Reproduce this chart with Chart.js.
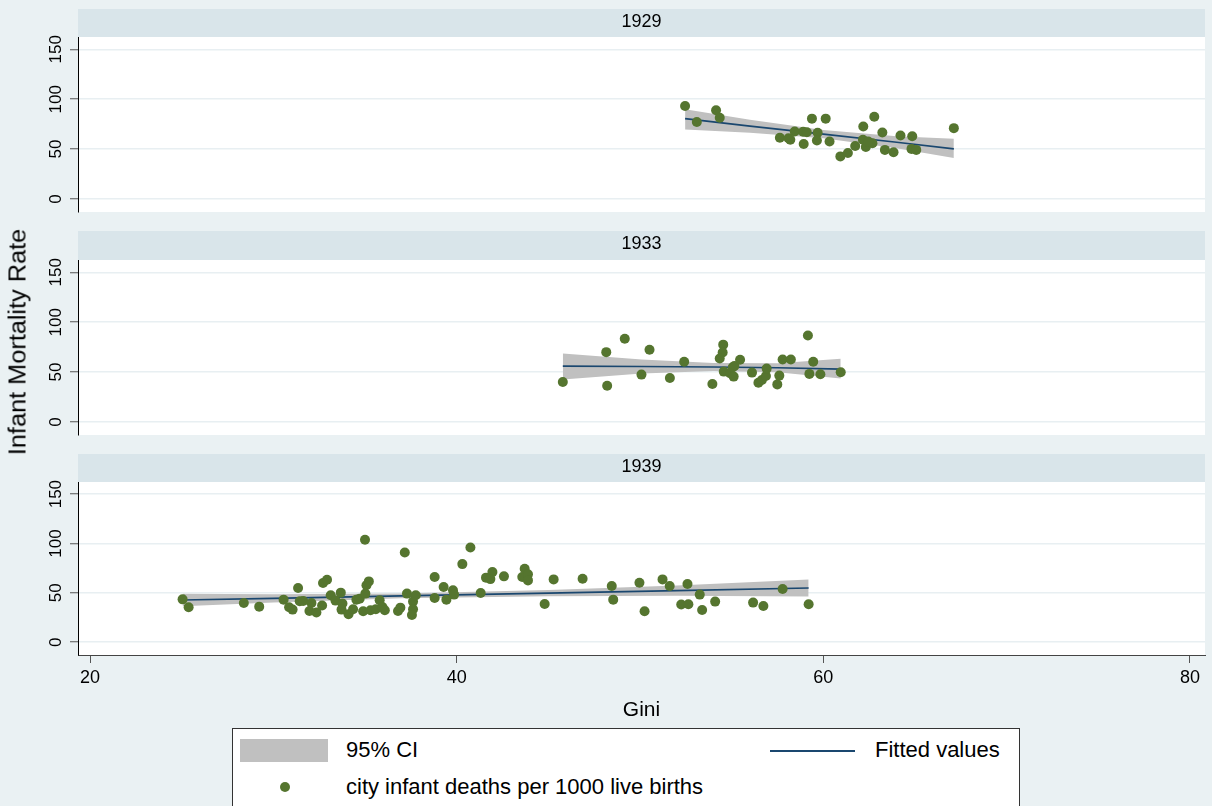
<!DOCTYPE html>
<html>
<head>
<meta charset="utf-8">
<script src="https://cdn.jsdelivr.net/npm/chart.js@4.4.1/dist/chart.umd.min.js"></script>
<style>
  html, body { margin: 0; padding: 0; width: 1212px; height: 806px; overflow: hidden;
    background: #EAF1F3; font-family: 'Liberation Sans', Arial, sans-serif; color: #000; }
  canvas { position: absolute; left: 0; }
  #ytitle { position: absolute; left: 18px; top: 342px;
    transform: translate(-50%, -50%) rotate(-90deg) scaleX(1.1);
    white-space: nowrap; font-size: 23px; line-height: 23px; }
  #legend { position: absolute; left: 232px; top: 728px; width: 788px; height: 100px;
    background: #fff; border: 1px solid #333; box-sizing: border-box; }
  #legend div { position: absolute; }
  .lt { font-size: 22px; line-height: 22px; white-space: nowrap; }
</style>
</head>
<body>
<!-- each panel canvas carries 6px of bottom room taken by the point-size padding -->
<canvas id="p1929" width="1212" height="208" style="top:9px"></canvas>
<canvas id="p1933" width="1212" height="209" style="top:231px"></canvas>
<canvas id="p1939" width="1212" height="271" style="top:454px"></canvas>
<div id="ytitle">Infant Mortality Rate</div>
<div id="legend">
  <div style="left:7px;top:10px;width:88px;height:23px;background:#C0C0C0"></div>
  <div class="lt" style="left:113px;top:10px">95% CI</div>
  <div style="left:537px;top:21px;width:85px;height:2px;background:#1A476F"></div>
  <div class="lt" style="left:642px;top:10px">Fitted values</div>
  <div style="left:47px;top:53px;width:10px;height:10px;border-radius:50%;background:#55752F"></div>
  <div class="lt" style="left:113px;top:47px">city infant deaths per 1000 live births</div>
</div>
<script>
// Axis ticks
const giniTicks = [20, 40, 60, 80];
const imrTicks = [0, 50, 100, 150];

// 1929: city Gini and infant deaths per 1000 live births
const gini1929 = [52.46, 53.10, 54.15, 54.35, 59.38, 60.13, 62.78, 62.18, 63.22, 64.21, 64.85, 67.12,
  58.44, 58.90, 59.10, 59.69, 57.63, 58.10, 58.20, 58.93, 59.65, 60.34, 60.93, 61.34, 61.74, 62.16,
  62.32, 62.68, 62.45, 63.36, 63.83, 64.81, 65.07];
const imr1929 = [93.2, 77.1, 88.9, 81.5, 80.5, 80.5, 82.5, 72.7, 66.7, 63.6, 62.9, 71.0,
  67.7, 67.3, 66.8, 66.3, 61.3, 60.9, 59.3, 55.2, 58.6, 57.6, 42.7, 46.1, 53.2, 59.3,
  52.2, 55.9, 57.5, 49.2, 46.8, 50.2, 49.2];
const fitX1929 = [52.46, 56.0, 60.0, 64.0, 67.12];
const fit1929 = [80.5, 73.0, 65.0, 56.8, 50.2];
const ciLo1929 = [69.7, 66.5, 60.8, 50.8, 41.1];
const ciHi1929 = [89.9, 79.5, 69.2, 62.8, 60.3];

// 1933
const gini1933 = [45.79, 48.21, 48.16, 49.17, 50.52, 50.08, 51.63, 52.41, 53.95, 54.54, 54.51, 54.35,
  54.57, 55.06, 55.15, 54.91, 55.11, 55.46, 56.11, 56.46, 56.65, 56.87, 56.91, 57.49, 57.60, 57.78,
  58.23, 59.16, 59.45, 59.24, 59.84, 60.95];
const imr1933 = [40.1, 36.4, 70.0, 83.5, 72.4, 47.5, 44.1, 60.3, 38.1, 77.5, 69.7, 63.6,
  50.5, 54.9, 56.2, 48.8, 45.5, 62.3, 49.5, 39.4, 42.1, 46.1, 53.5, 37.7, 46.5, 62.6,
  62.6, 86.6, 60.3, 48.2, 47.8, 49.8];
const fitX1933 = [45.79, 50.1, 54.0, 57.5, 60.95];
const fit1933 = [56.0, 55.6, 55.1, 54.3, 53.0];
const ciLo1933 = [42.7, 48.5, 51.2, 49.8, 43.7];
const ciHi1933 = [68.7, 62.7, 59.0, 58.8, 63.3];

// 1939
const gini1939 = [25.05, 25.38, 28.39, 29.23, 30.56, 31.35, 30.86, 31.05, 31.44, 31.63, 32.08, 31.97,
  32.35, 32.66, 32.71, 32.93, 33.13, 33.39, 33.68, 33.77, 33.72, 34.10, 34.35, 34.53, 34.71, 35.00,
  35.08, 35.21, 35.02, 34.90, 35.30, 35.59, 35.80, 35.95, 36.08, 36.80, 36.93, 37.17, 37.29, 37.62,
  37.77, 37.62, 37.56, 38.80, 38.80, 39.29, 39.44, 39.80, 39.86, 40.31, 40.75, 41.31, 41.60, 41.95,
  41.84, 42.58, 43.71, 43.58, 43.89, 43.89, 44.80, 45.29, 46.87, 48.46, 48.54, 49.97, 50.25, 51.23,
  51.62, 52.25, 52.64, 52.59, 53.26, 53.39, 54.10, 56.17, 56.73, 57.78, 59.20];
const imr1939 = [43.4, 35.4, 39.7, 36.0, 43.1, 54.9, 35.4, 33.0, 41.4, 41.7, 39.7, 31.6,
  30.0, 37.1, 59.9, 63.3, 47.5, 42.1, 50.2, 39.1, 33.0, 28.3, 33.3, 43.1, 44.1, 103.7,
  57.6, 61.6, 49.2, 31.3, 32.3, 33.3, 42.4, 35.7, 32.3, 31.6, 35.0, 90.9, 49.2, 41.1,
  47.5, 33.3, 27.6, 66.0, 44.7, 55.9, 43.1, 52.5, 48.2, 79.1, 96.0, 49.8, 65.4, 71.0,
  63.9, 66.7, 74.4, 66.0, 68.7, 62.6, 38.7, 63.6, 64.3, 56.9, 43.1, 60.3, 31.3, 63.6,
  56.9, 38.1, 38.4, 58.9, 48.2, 32.6, 41.1, 40.1, 36.7, 53.8, 38.4];
const fitX1939 = [25.05, 30.0, 37.0, 45.0, 52.0, 59.2];
const fit1939 = [42.7, 44.4, 46.9, 49.7, 52.2, 54.9];
const ciLo1939 = [36.4, 40.2, 44.6, 46.6, 47.1, 46.3];
const ciHi1939 = [49.0, 48.6, 49.2, 52.8, 57.3, 63.5];

const FONT = "'Liberation Sans', Arial, sans-serif";
Chart.defaults.font.family = FONT;
Chart.defaults.color = '#000';

const POINT_COLOR = '#55752F';
const FIT_COLOR = '#1A476F';
const CI_COLOR = '#C0C0C0';

// Draws the title strip above each panel and the white plot region
const panelFrame = {
  id: 'panelFrame',
  beforeDraw(chart, args, opts) {
    const { ctx, chartArea: a } = chart;
    ctx.save();
    ctx.fillStyle = '#D9E5EA';
    ctx.fillRect(a.left, a.top - opts.strip, a.right - a.left, opts.strip);
    ctx.fillStyle = '#FFFFFF';
    ctx.fillRect(a.left, a.top, a.right - a.left, a.bottom - a.top);
    ctx.fillStyle = '#000';
    ctx.font = '18px ' + FONT;
    ctx.textAlign = 'center';
    ctx.textBaseline = 'middle';
    ctx.fillText(opts.label, (a.left + a.right) / 2, a.top - opts.strip / 2 - 1);
    ctx.restore();
  }
};

const toXY = (xs, ys) => xs.map((x, i) => ({ x: x, y: ys[i] }));

function makePanel(id, label, strip, gini, imr, fitX, fit, ciLo, ciHi, showX) {
  const ctx = document.getElementById(id);
  return new Chart(ctx, {
    type: 'scatter',
    plugins: [panelFrame],
    data: {
      datasets: [
        { label: 'city infant deaths per 1000 live births', data: toXY(gini, imr),
          backgroundColor: POINT_COLOR, borderWidth: 0, pointRadius: 5, order: 0 },
        { label: 'Fitted values', data: toXY(fitX, fit), showLine: true, pointRadius: 0,
          borderColor: FIT_COLOR, borderWidth: 1.6, fill: false, order: 1 },
        { label: '95% CI', data: toXY(fitX, ciHi), showLine: true, pointRadius: 0,
          borderWidth: 0, borderColor: CI_COLOR, backgroundColor: CI_COLOR, fill: '+1', order: 2 },
        { label: '95% CI lower', data: toXY(fitX, ciLo), showLine: true, pointRadius: 0,
          borderWidth: 0, borderColor: CI_COLOR, fill: false, order: 3 }
      ]
    },
    options: {
      responsive: false,
      animation: false,
      devicePixelRatio: 1,
      events: [],
      layout: { padding: { top: strip, right: 7, bottom: 0, left: 0 } },
      plugins: {
        legend: { display: false },
        tooltip: { enabled: false },
        panelFrame: { label: label, strip: strip }
      },
      scales: {
        x: {
          type: 'linear', min: 19.345, max: 80.82,
          display: showX,
          afterBuildTicks: s => { s.ticks = giniTicks.map(v => ({ value: v })); },
          afterFit: s => { s.height = showX ? 70 : 0; s.paddingLeft = 0; s.paddingRight = 0; },
          grid: { drawOnChartArea: false, drawTicks: true, tickLength: 8, tickColor: '#555', tickWidth: 1 },
          border: { display: true, color: '#444', width: 1 },
          ticks: { font: { size: 18 }, padding: 4, maxRotation: 0, autoSkip: false, color: '#000' },
          title: { display: true, text: 'Gini', font: { size: 21 }, color: '#000',
            padding: { top: 0, bottom: 2 } }
        },
        y: {
          type: 'linear', min: -13, max: 162.3,
          afterBuildTicks: s => { s.ticks = imrTicks.map(v => ({ value: v })); },
          afterFit: s => { s.width = 78; s.paddingTop = 0; s.paddingBottom = 0; },
          grid: { color: '#E8EFF2', lineWidth: 1.5, drawTicks: true, tickLength: 8,
            tickColor: '#555', tickWidth: 1 },
          border: { display: true, color: '#000', width: 1 },
          ticks: { font: { size: 17 }, minRotation: 90, maxRotation: 90, crossAlign: 'center',
            padding: 0, autoSkip: false, color: '#000' }
        }
      }
    }
  });
}

makePanel('p1929', '1929', 28, gini1929, imr1929, fitX1929, fit1929, ciLo1929, ciHi1929, false);
makePanel('p1933', '1933', 29, gini1933, imr1933, fitX1933, fit1933, ciLo1933, ciHi1933, false);
makePanel('p1939', '1939', 28, gini1939, imr1939, fitX1939, fit1939, ciLo1939, ciHi1939, true);
</script>
</body>
</html>
